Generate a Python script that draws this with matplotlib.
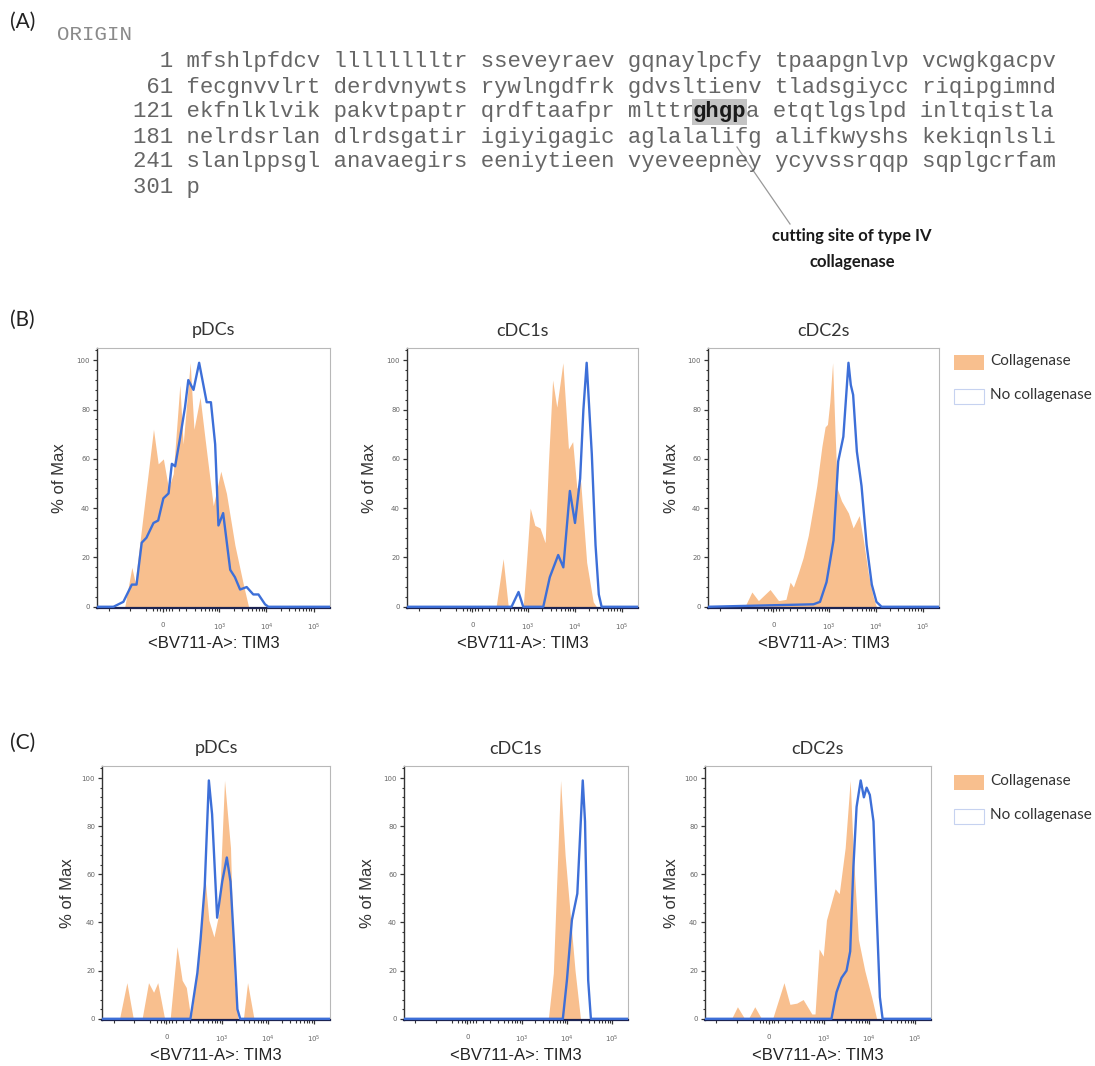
import numpy as np
import matplotlib
matplotlib.use('Agg')
import matplotlib.pyplot as plt
from matplotlib.patches import Rectangle
from matplotlib.ticker import FixedLocator, MultipleLocator

# ---- panel A: protein sequence ----
seq_start = [1, 61, 121, 181, 241, 301]
seq_rows = [
    "mfshlpfdcv lllllllltr sseveyraev gqnaylpcfy tpaapgnlvp vcwgkgacpv",
    "fecgnvvlrt derdvnywts rywlngdfrk gdvsltienv tladsgiycc riqipgimnd",
    "ekfnlklvik pakvtpaptr qrdftaafpr mlttrghgpa etqtlgslpd inltqistla",
    "nelrdsrlan dlrdsgatir igiyigagic aglalalifg alifkwyshs kekiqnlsli",
    "slanlppsgl anavaegirs eeniytieen vyeveepney ycyvssrqqp sqplgcrfam",
    "p",
]
cut_site = "ghgp"

# ---- panels B/C: histograms, x in biex display units (0 -> 0, 10^3 -> 1.2, 10^4 -> 2.2, 10^5 -> 3.2) ----
tick_pos = [0, 1.2, 2.2, 3.2]
tick_lab = ['0', '$10^3$', '$10^4$', '$10^5$']
cell_types = ['pDCs', 'cDC1s', 'cDC2s']
legend_labels = ['Collagenase', 'No collagenase']

# B  pDCs
b_pdc_col_x = [-0.81, -0.66, -0.59, -0.20, -0.10, 0.01, 0.12, 0.22, 0.36, 0.43, 0.58, 0.66, 0.79, 0.89,
               1.07, 1.23, 1.35, 1.53, 1.71, 1.82]
b_pdc_col_y = [0, 16, 10, 72, 58, 60, 48, 54, 90, 66, 99, 72, 85, 69, 41, 55, 46, 25, 9, 0]
b_pdc_no_x = [-1.05, -0.84, -0.66, -0.56, -0.45, -0.35, -0.20, -0.10, 0.01, 0.12, 0.19, 0.26, 0.36, 0.47,
              0.54, 0.65, 0.77, 0.82, 0.93, 1.02, 1.11, 1.18, 1.28, 1.43, 1.53, 1.64, 1.78, 1.92, 2.03,
              2.17, 2.24]
b_pdc_no_y = [0, 2, 9, 9, 26, 28, 34, 35, 44, 46, 58, 57, 68, 81, 92, 88, 99, 94, 83, 83, 66, 33, 38, 15,
              12, 7, 8, 5, 5, 1, 0]
# B  cDC1s
b_cdc1_col_x = [0.51, 0.66, 0.77, 1.09, 1.16, 1.24, 1.34, 1.45, 1.56, 1.63, 1.72, 1.81, 1.94, 2.06, 2.15,
                2.24, 2.32, 2.45, 2.59, 2.66]
b_cdc1_col_y = [0, 19.5, 0, 0, 18, 40, 33, 32, 26, 58, 92, 81, 99, 64, 67, 48, 51, 18, 2, 0]
b_cdc1_no_x = [0.84, 0.99, 1.09, 1.52, 1.66, 1.84, 1.95, 2.09, 2.20, 2.31, 2.38, 2.45, 2.56, 2.64, 2.71, 2.77]
b_cdc1_no_y = [0, 6, 0, 0, 12, 21, 16, 47, 34, 52, 80, 99, 62, 25, 5, 0]
# B  cDC2s
b_cdc2_col_x = [-0.61, -0.46, -0.32, -0.07, 0.11, 0.27, 0.36, 0.43, 0.54, 0.64, 0.75, 0.86, 0.93, 1.04,
                1.11, 1.16, 1.21, 1.27, 1.32, 1.37, 1.46, 1.61, 1.71, 1.84, 1.93, 2.04, 2.14, 2.21]
b_cdc2_col_y = [0, 6, 2.5, 7, 2.5, 3, 10, 8, 14, 20, 29, 41, 49, 65, 73, 74, 83, 99, 72, 48, 43, 38, 32,
                37, 27, 13, 4, 0]
b_cdc2_no_x = [0.86, 1.00, 1.14, 1.29, 1.39, 1.50, 1.61, 1.66, 1.71, 1.79, 1.89, 2.00, 2.11, 2.21, 2.32]
b_cdc2_no_y = [1, 2, 10, 27, 59, 69, 99, 90, 86, 63, 49, 25, 9, 2, 0]

# C  pDCs
c_pdc_col_x = [-1.02, -0.86, -0.72, -0.53, -0.39, -0.28, -0.19, -0.04, 0.08, 0.23, 0.34, 0.43, 0.53, 0.59,
               0.70, 0.83, 0.92, 1.03, 1.14, 1.26, 1.39, 1.47, 1.55, 1.67, 1.76, 1.90]
c_pdc_col_y = [0, 15, 0, 0, 15, 11, 15, 0, 0, 30, 16, 13, 0, 8, 27, 60, 41, 34, 44, 99, 71, 16, 0, 0, 15, 0]
c_pdc_no_x = [0.52, 0.67, 0.74, 0.83, 0.92, 0.99, 1.10, 1.21, 1.31, 1.39, 1.47, 1.54, 1.60]
c_pdc_no_y = [0, 19, 33, 55, 99, 85, 42, 57, 67, 57, 30, 4, 0]
# C  cDC1s
c_cdc1_col_x = [1.79, 1.90, 2.06, 2.16, 2.27, 2.38, 2.50]
c_cdc1_col_y = [0, 19, 99, 68, 44, 20, 0]
c_cdc1_no_x = [2.11, 2.20, 2.31, 2.43, 2.55, 2.60, 2.67, 2.73]
c_cdc1_no_y = [0, 16, 41, 52, 99, 82, 16, 0]
# C  cDC2s
c_cdc2_col_x = [-0.82, -0.69, -0.53, -0.45, -0.31, -0.16, 0.08, 0.33, 0.46, 0.61, 0.75, 0.94, 1.01, 1.10,
                1.19, 1.26, 1.45, 1.54, 1.67, 1.78, 1.85, 1.96, 2.10, 2.25, 2.36]
c_cdc2_col_y = [0, 5, 0, 0, 5, 0, 0, 15, 6, 6.5, 8, 2, 2, 29, 26, 41, 54, 52, 71, 99, 68, 33, 20, 9, 0]
c_cdc2_no_x = [1.37, 1.48, 1.59, 1.70, 1.78, 1.85, 1.92, 2.01, 2.08, 2.14, 2.21, 2.29, 2.36, 2.43, 2.49]
c_cdc2_no_y = [0, 11, 17, 20, 28, 63, 88, 99, 92, 96, 93, 82, 44, 9, 0]

ORANGE = '#F8BF8E'
BLUE = '#3D6FD8'
XMIN, XMAX = -1.4, 3.55
YMIN, YMAX = -0.5, 105

W, H = 1095, 1066
fig = plt.figure(figsize=(W / 100, H / 100), dpi=100)
fig.patch.set_facecolor('white')

# overlay axes in pixel coords for all the loose text
ov = fig.add_axes([0, 0, 1, 1])
ov.set_xlim(0, W)
ov.set_ylim(H, 0)
ov.axis('off')

# panel A text
ov.text(10, 22, '(A)', family='Lato', fontsize=15, color='#222', va='center')
ov.text(57, 34, 'ORIGIN', family='Liberation Mono', fontsize=15, color='#8a8a8a', va='center')
FS = 16
cw = 0.6 * FS * 100 / 72.0   # monospace char width in px
x0 = 133
row_y = [62, 87, 112, 137, 162, 187]
SEQ_COL = '#666666'
for k, (n, row, y) in enumerate(zip(seq_start, seq_rows, row_y)):
    line = '%3d %s' % (n, row)
    if k != 2:
        ov.text(x0, y, line, family='Liberation Mono', fontsize=FS, color=SEQ_COL, va='center')
        continue
    # row with the cutting site: split in three pieces
    ci = line.index(cut_site)
    gx = x0 + ci * cw
    ov.text(x0, y, line[:ci], family='Liberation Mono', fontsize=FS, color=SEQ_COL, va='center')
    ov.add_patch(Rectangle((gx - 1, y - 13), len(cut_site) * cw + 2, 26, facecolor='#c4c4c4',
                           edgecolor='none', zorder=3))
    ov.text(gx, y, cut_site, family='Liberation Mono', fontsize=FS, weight='bold', color='#1a1a1a',
            va='center', zorder=4)
    ov.text(gx + len(cut_site) * cw, y, line[ci + len(cut_site):], family='Liberation Mono', fontsize=FS,
            color=SEQ_COL, va='center')

ov.plot([737, 790], [147, 224], color='#999999', lw=0.9)
ov.text(852, 236, 'cutting site of type IV', family='Lato', weight='bold', fontsize=12, color='#1a1a1a',
        ha='center', va='center')
ov.text(852, 262, 'collagenase', family='Lato', weight='bold', fontsize=12, color='#1a1a1a',
        ha='center', va='center')

ov.text(10, 320, '(B)', family='Lato', fontsize=15, color='#222', va='center')
ov.text(10, 743, '(C)', family='Lato', fontsize=15, color='#222', va='center')


def px_axes(l, t, r, b):
    return fig.add_axes([l / W, 1 - b / H, (r - l) / W, (b - t) / H])


# minor x ticks like a biex axis
minor_x = [-1.15, -0.7, -0.35, -0.2, -0.12, -0.06, 0.06, 0.12, 0.2, 0.35]
for k in range(2, 10):
    minor_x += [0.2 + np.log10(k), 1.2 + np.log10(k), 2.2 + np.log10(k)]
minor_x = [v for v in minor_x if XMIN < v < XMAX]


def draw_hist(ax, col_x, col_y, no_x, no_y, title):
    ax.fill_between(col_x, col_y, 0, color=ORANGE, lw=0, zorder=2)
    bx = [XMIN] + list(no_x) + [XMAX]
    by = [0] + list(no_y) + [0]
    ax.plot(bx, by, color=BLUE, lw=1.7, zorder=3)
    ax.set_xlim(XMIN, XMAX)
    ax.set_ylim(YMIN, YMAX)
    ax.xaxis.set_major_locator(FixedLocator(tick_pos))
    ax.set_xticklabels(tick_lab)
    ax.xaxis.set_minor_locator(FixedLocator(minor_x))
    ax.set_yticks([0, 20, 40, 60, 80, 100])
    ax.yaxis.set_minor_locator(MultipleLocator(4))
    ax.tick_params(axis='both', which='major', labelsize=5, colors='#333', labelcolor='#666',
                   length=3, width=0.9, pad=2)
    ax.tick_params(axis='x', which='major', pad=7)
    ax.tick_params(axis='both', which='minor', length=1.8, width=0.8, colors='#333')
    for s in ['top', 'right']:
        ax.spines[s].set_color('#b8b8b8')
        ax.spines[s].set_linewidth(0.8)
    ax.spines['left'].set_color('#333')
    ax.spines['left'].set_linewidth(1.0)
    ax.spines['bottom'].set_color('#1c2452')
    ax.spines['bottom'].set_linewidth(1.6)
    ax.set_title(title, family='Lato', fontsize=13, color='#333', pad=9)


panels = [
    ((97, 348, 330, 608), b_pdc_col_x, b_pdc_col_y, b_pdc_no_x, b_pdc_no_y, 60),
    ((407, 348, 638, 608), b_cdc1_col_x, b_cdc1_col_y, b_cdc1_no_x, b_cdc1_no_y, 370),
    ((708, 348, 939, 608), b_cdc2_col_x, b_cdc2_col_y, b_cdc2_no_x, b_cdc2_no_y, 672),
    ((102, 766, 330, 1020), c_pdc_col_x, c_pdc_col_y, c_pdc_no_x, c_pdc_no_y, 68),
    ((404, 766, 628, 1020), c_cdc1_col_x, c_cdc1_col_y, c_cdc1_no_x, c_cdc1_no_y, 368),
    ((705, 766, 931, 1020), c_cdc2_col_x, c_cdc2_col_y, c_cdc2_no_x, c_cdc2_no_y, 672),
]
for i, (rect, cx, cy, nx, ny, ylx) in enumerate(panels):
    l, t, r, b = rect
    ax = px_axes(l, t, r, b)
    draw_hist(ax, cx, cy, nx, ny, cell_types[i % 3])
    ov.text(ylx, (t + b) / 2, '% of Max', family='Liberation Sans', fontsize=12, color='#333',
            rotation=90, ha='center', va='center')
    ov.text((l + r) / 2, b + 35, '<BV711-A>: TIM3', family='Liberation Sans', fontsize=12, color='#222',
            ha='center', va='center')

# legends
for ly in [355, 775]:
    ov.add_patch(Rectangle((954, ly), 30, 15, facecolor=ORANGE, edgecolor='none'))
    ov.add_patch(Rectangle((954, ly + 34), 30, 15, facecolor='white', edgecolor='#c6d2f0', lw=0.8))
    ov.text(990, ly + 6, legend_labels[0], family='Lato', fontsize=11, color='#333', va='center')
    ov.text(990, ly + 40, legend_labels[1], family='Lato', fontsize=11, color='#333', va='center')

fig.savefig('out.png', dpi=100, facecolor='white')
